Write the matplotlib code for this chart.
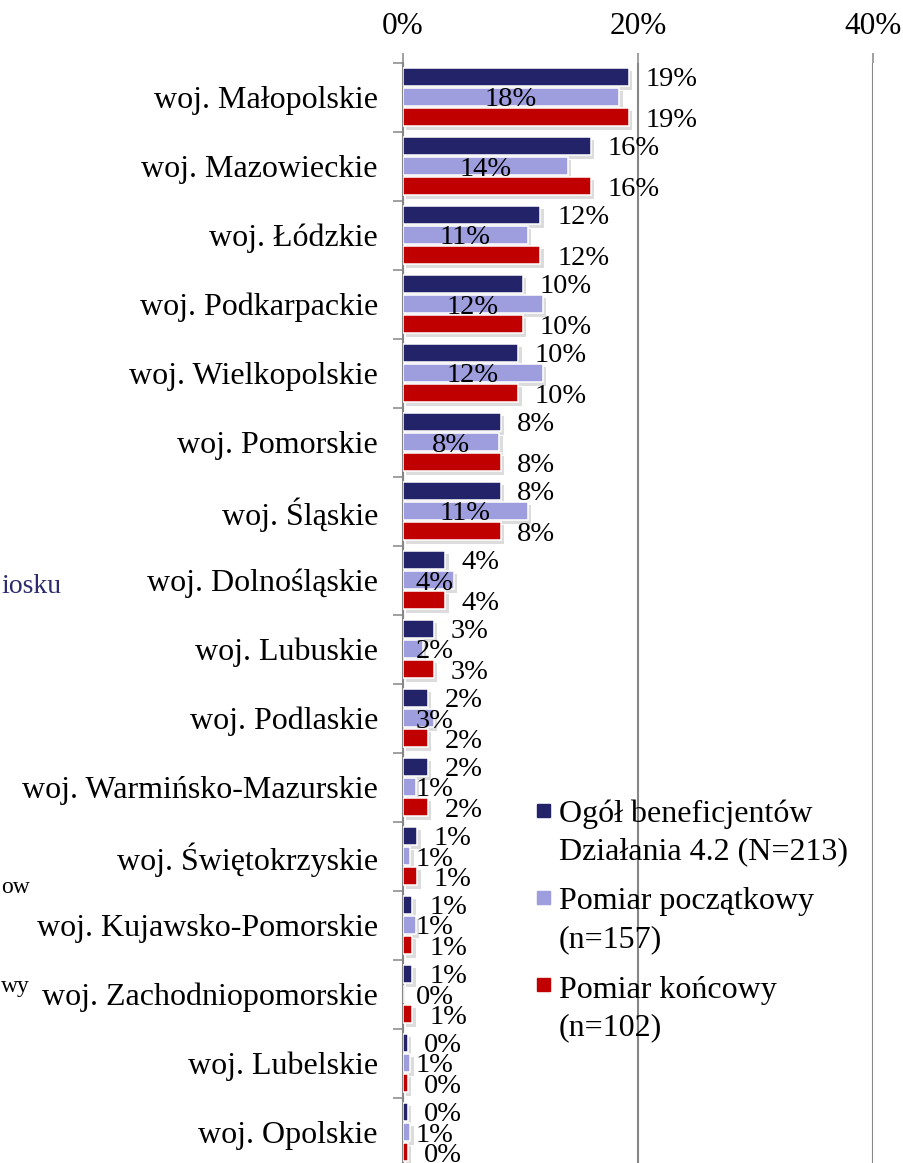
"""
Struktura beneficjentów wg województw - wykres słupkowy poziomy.
"""

import matplotlib
matplotlib.use('Agg')
import matplotlib.pyplot as plt
import matplotlib.patheffects as pe
from matplotlib.patches import Rectangle
import numpy as np

regions = ['woj. Małopolskie', 'woj. Mazowieckie', 'woj. Łódzkie', 'woj. Podkarpackie',
           'woj. Wielkopolskie', 'woj. Pomorskie', 'woj. Śląskie', 'woj. Dolnośląskie',
           'woj. Lubuskie', 'woj. Podlaskie', 'woj. Warmińsko-Mazurskie',
           'woj. Świętokrzyskie', 'woj. Kujawsko-Pomorskie', 'woj. Zachodniopomorskie',
           'woj. Lubelskie', 'woj. Opolskie']
ogol = [19.2, 16.0, 11.7, 10.2, 9.8, 8.3, 8.3, 3.6, 2.6, 2.1, 2.1, 1.2, 0.8, 0.8, 0.4, 0.4]
poczatkowy = [18.4, 14.0, 10.6, 11.9, 11.9, 8.2, 10.6, 4.3, 1.7, 2.6, 1.1, 0.6, 1.1, 0.0, 0.6, 0.6]
koncowy = [19.2, 16.0, 11.7, 10.2, 9.8, 8.3, 8.3, 3.6, 2.6, 2.1, 2.1, 1.2, 0.8, 0.8, 0.4, 0.4]
legend_lines = [['Ogół beneficjentów', 'Działania 4.2 (N=213)'],
                ['Pomiar początkowy', '(n=157)'],
                ['Pomiar końcowy', '(n=102)']]
colors = ['#23236A', '#9E9EDE', '#C00000']

plt.rcParams['font.family'] = ['Liberation Serif', 'DejaVu Serif']
W, H = 904, 1163
fig = plt.figure(figsize=(W / 100, H / 100), dpi=100)
ax = fig.add_axes([403 / W, 1 - 1166.5 / H, 470 / W, 1104 / H])

grid_color = '#868686'
y = np.arange(len(regions))
offsets = [-0.29, 0.0, 0.29]
shadow = [pe.SimplePatchShadow(offset=(2.5, -2.5), shadow_rgbFace='0.55', alpha=0.3), pe.Normal()]
for i, (vals, color) in enumerate(zip([ogol, poczatkowy, koncowy], colors)):
    bars = ax.barh(y + offsets[i], vals, height=0.27, color=color,
                   edgecolor='white', linewidth=1.1, zorder=3)
    for b in bars:
        b.set_path_effects(shadow)
    for yy, v in zip(y + offsets[i], vals):
        txt = f'{v:.0f}%'
        if i == 1:
            ax.text(max(v / 2, 2.72), yy, txt, ha='center', va='center_baseline',
                    fontsize=20.5, zorder=5)
        else:
            ax.annotate(txt, xy=(v, yy), xytext=(12, 0), textcoords='offset points',
                        ha='left', va='center_baseline', fontsize=20.5, zorder=5)

ax.set_xlim(0, 40)
ax.set_ylim(15.5, -0.5)
ax.xaxis.tick_top()
ax.set_xticks([0, 20, 40])
ax.set_xticklabels(['0%', '20%', '40%'])
ax.tick_params(axis='x', length=7.2, width=1.1, color=grid_color, pad=8, labelsize=22.5)
ax.set_yticks(y)
ax.set_yticklabels(regions)
ax.tick_params(axis='y', which='major', length=0, pad=18, labelsize=23)
ax.set_yticks(np.arange(-0.5, len(regions), 1), minor=True)
ax.tick_params(axis='y', which='minor', length=7.2, width=1.1, color=grid_color)
for s in ['top', 'right', 'bottom']:
    ax.spines[s].set_visible(False)
ax.spines['left'].set_color(grid_color)
ax.spines['left'].set_linewidth(1.5)
ax.xaxis.grid(True, color=grid_color, linewidth=1.5)
ax.set_axisbelow(True)

# legenda rysowana recznie (znacznik przy pierwszej linii)
square_y = [810, 897, 984]
baselines = [[822, 859], [909, 947], [998, 1035]]
for color, sy, lines, bl in zip(colors, square_y, legend_lines, baselines):
    fig.patches.append(Rectangle(((543 - 6.5) / W, 1 - (sy + 6.5) / H), 13 / W, 13 / H,
                                 transform=fig.transFigure, color=color, zorder=6))
    for line, b in zip(lines, bl):
        fig.text(559 / W, 1 - b / H, line, va='baseline', ha='left', fontsize=23, zorder=6)

# fragmenty sasiedniego tekstu przy lewej krawedzi
fig.text(1 / W, 1 - 593 / H, 'iosku', ha='left', va='baseline', fontsize=20, color='#2B2B6E')
fig.text(1 / W, 1 - 893 / H, 'ow', ha='left', va='baseline', fontsize=17)
fig.text(1 / W, 1 - 992 / H, 'wy', ha='left', va='baseline', fontsize=17)

fig.savefig('out.png', dpi=100)
plt.close()
